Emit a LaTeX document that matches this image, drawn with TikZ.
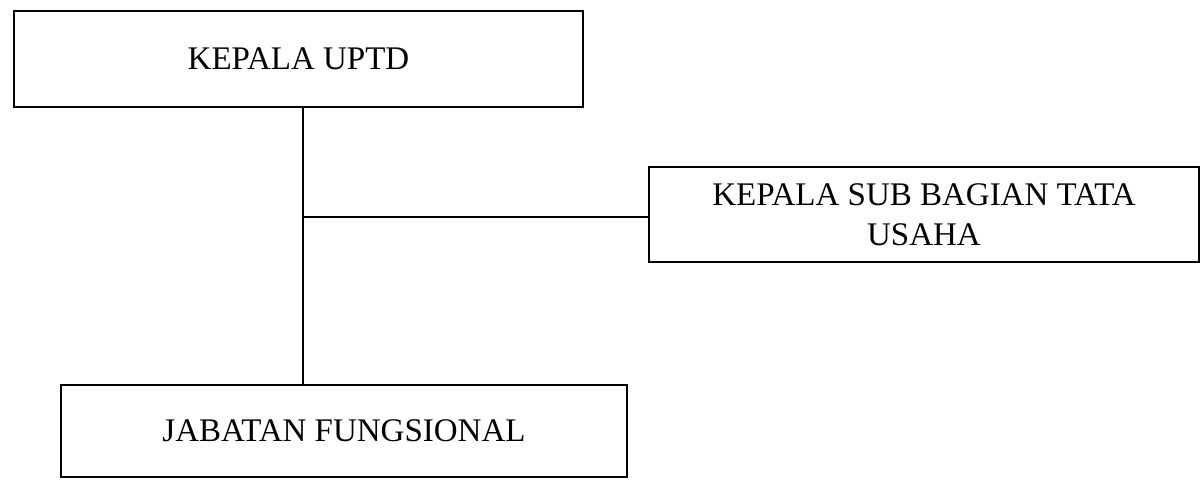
\documentclass[tikz,border=0pt]{standalone}
\usepackage{fontspec}
\setmainfont{Liberation Serif}
\begin{document}
\begin{tikzpicture}[x=1pt,y=-1pt,
  orgbox/.style={draw=black, line width=2.6pt, rectangle, inner sep=0pt, align=center,
    font=\fontsize{33}{40}\selectfont},
  link/.style={draw=black, line width=2.6pt}]
\useasboundingbox[fill=white] (0,0) rectangle (1201,479);
\node[orgbox, minimum width=569pt, minimum height=96pt] (kepala) at (298.5,59) {\raisebox{-2pt}{KEPALA UPTD}};
\node[orgbox, minimum width=550pt, minimum height=95pt] (subbag) at (924,214.5) {KEPALA SUB BAGIAN TATA\\USAHA};
\node[orgbox, minimum width=566pt, minimum height=92pt] (jabatan) at (344,431) {\raisebox{-9pt}{JABATAN FUNGSIONAL}};
\coordinate (junc) at (303,217);
\draw[link] (kepala.south -| junc) -- (jabatan.north -| junc);
\draw[link] (junc) -- (subbag.west |- junc);
\end{tikzpicture}
\end{document}
